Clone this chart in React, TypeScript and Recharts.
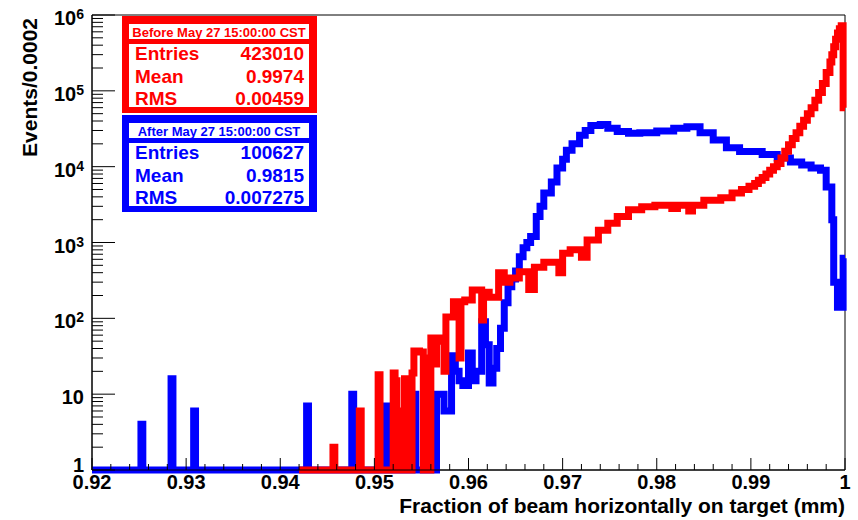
import { LineChart, Line, XAxis, YAxis, ReferenceArea } from 'recharts'

// bin low edges and counts (events / 0.0002)
const blueEdges = [
  0.92, 0.9252, 0.9254, 0.9284, 0.9286, 0.9308, 0.931, 0.9428, 0.943, 0.9476, 0.9478, 0.9512, 0.9514,
  0.954, 0.9544, 0.9566, 0.9574, 0.9582, 0.9586, 0.959, 0.9594, 0.96, 0.9604, 0.9608, 0.9614, 0.9618,
  0.9622, 0.9626, 0.963, 0.9634, 0.9638, 0.9642, 0.9646, 0.965, 0.9654, 0.9658, 0.9662, 0.9666, 0.9672,
  0.9676, 0.968, 0.9688, 0.9694, 0.97, 0.9704, 0.971, 0.9718, 0.9724, 0.973, 0.974, 0.9748, 0.9758,
  0.977, 0.9782, 0.98, 0.9818, 0.9832, 0.9846, 0.986, 0.9874, 0.9888, 0.9912, 0.9928, 0.9942, 0.9954,
  0.9964, 0.9974, 0.998, 0.9986, 0.9988, 0.9992, 0.9998
]
const blueCounts = [
  0, 4, 0, 16, 0, 6, 0, 7, 0, 10, 0, 7, 0,
  10, 0, 10, 6, 32, 20, 15, 13, 35, 15, 20, 90, 45,
  14, 22, 40, 74, 160, 260, 330, 420, 650, 850, 1000, 1200, 2200,
  3000, 4500, 6300, 9600, 12500, 16500, 20000, 26000, 30000, 35000, 36000, 32000, 29000,
  27500, 28000, 29500, 32000, 33500, 28000, 22500, 17700, 15800, 14500, 13000, 11500, 10500,
  9600, 9000, 5400, 2000, 300, 140, 620
]

const redEdges = [
  0.942, 0.9456, 0.9458, 0.9484, 0.9486, 0.9504, 0.9506, 0.952, 0.9522, 0.9524, 0.953, 0.9532, 0.9534,
  0.954, 0.9542, 0.9548, 0.9552, 0.9554, 0.9556, 0.956, 0.9564, 0.9566, 0.957, 0.9574, 0.9576, 0.9584,
  0.959, 0.9592, 0.9596, 0.9604, 0.9614, 0.9616, 0.9622, 0.9632, 0.9638, 0.9644, 0.9654, 0.9664, 0.967,
  0.968, 0.9696, 0.97, 0.9708, 0.972, 0.9726, 0.9738, 0.9748, 0.9758, 0.977, 0.9784, 0.9798, 0.9816,
  0.9822, 0.9834, 0.9838, 0.985, 0.9868, 0.988, 0.989, 0.9898, 0.9904, 0.9908, 0.9912, 0.9916, 0.992,
  0.9924, 0.9928, 0.9932, 0.9936, 0.994, 0.9944, 0.9948, 0.9952, 0.9956, 0.996, 0.9964, 0.9968, 0.9972,
  0.9976, 0.998, 0.9984, 0.9986, 0.9988, 0.999, 0.9992, 0.9994, 0.9996, 0.9998
]
const redCounts = [
  0, 2, 0, 6, 0, 18, 0, 19, 15, 0, 6, 16, 0,
  19, 37, 36, 0, 30, 0, 55, 25, 55, 50, 20, 104, 165,
  30, 165, 175, 236, 95, 220, 190, 400, 300, 340, 410, 240, 470,
  550, 400, 720, 800, 640, 1080, 1450, 1800, 2200, 2700, 2950, 3100, 2800,
  3100, 2600, 3100, 3600, 3900, 4500, 5000, 5500, 6000, 6600, 7200, 8000, 9000,
  10000, 11000, 13000, 16000, 19500, 23500, 28000, 34000, 41000, 50000, 60000, 75000, 95000,
  125000, 175000, 240000, 300000, 380000, 480000, 580000, 660000, 720000, 60000
]

const xMajorTicks = [0.92, 0.93, 0.94, 0.95, 0.96, 0.97, 0.98, 0.99, 1]
const xTickLabels = ['0.92', '0.93', '0.94', '0.95', '0.96', '0.97', '0.98', '0.99', '1']
const yMajorTicks = [1, 10, 100, 1000, 10000, 100000, 1000000]
const yTickBase = ['1', '10', '10', '10', '10', '10', '10']
const yTickSup = ['', '', '2', '3', '4', '5', '6']

const statLabels = ['Entries', 'Mean', 'RMS']
const redStats = ['423010', '0.9974', '0.00459']
const blueStats = ['100627', '0.9815', '0.007275']

const RED = '#ff0000'
const BLUE = '#0000ff'
const FONT = '"Liberation Sans", Arial, Helvetica, sans-serif'

function steps(edges: number[], counts: number[]) {
  const pts = edges.map((x, i) => ({ x, y: Math.max(counts[i], 1) }))
  pts.push({ x: 1, y: pts[pts.length - 1].y })
  return pts
}

const blueData = steps(blueEdges, blueCounts)
const redData = steps(redEdges, redCounts)

const xTicks: number[] = []
xMajorTicks.forEach((t, i) => {
  xTicks.push(t)
  if (i < xMajorTicks.length - 1) {
    for (let k = 1; k < 5; k++) xTicks.push(Math.round((t + k * 0.002) * 10000) / 10000)
  }
})

const yTicks: number[] = []
yMajorTicks.forEach((t, i) => {
  yTicks.push(t)
  if (i < yMajorTicks.length - 1) {
    for (let k = 2; k < 10; k++) yTicks.push(t * k)
  }
})

function XTick(props: any) {
  const { x, y, payload } = props
  const idx = xMajorTicks.findIndex((m) => Math.abs(m - payload.value) < 1e-6)
  const major = idx >= 0
  return (
    <g>
      <line x1={x} x2={x} y1={y} y2={y - (major ? 12 : 6)} stroke="#000" strokeWidth={1} />
      {major && (
        <text x={x} y={y + 19} textAnchor="middle" fontFamily={FONT} fontWeight="bold" fontSize={20} fill="#000">
          {xTickLabels[idx]}
        </text>
      )}
    </g>
  )
}

function YTick(props: any) {
  const { x, y, payload } = props
  const idx = yMajorTicks.findIndex((m) => Math.abs(m - payload.value) < 1e-6 * m)
  const major = idx >= 0
  return (
    <g>
      <line x1={x} x2={x + (major ? 23 : 11)} y1={y} y2={y} stroke="#000" strokeWidth={1} />
      {major && (
        <text x={x - 8} y={y + (idx === 0 ? 2 : 10)} textAnchor="end" fontFamily={FONT} fontWeight="bold" fontSize={20} fill="#000">
          {yTickBase[idx]}
          {yTickSup[idx] && (
            <tspan dy={-6} fontSize={14}>
              {yTickSup[idx]}
            </tspan>
          )}
        </text>
      )}
    </g>
  )
}

function StatBox({ top, color, title, values }: { top: number; color: string; title: string; values: string[] }) {
  return (
    <g fontFamily={FONT} fontWeight="bold" fill={color}>
      <rect x={122} y={top} width={195} height={97} fill={color} />
      <rect x={129} y={top + 8} width={180} height={15} fill="#fff" />
      <rect x={129} y={top + 28} width={180} height={63} fill="#fff" />
      <text x={219} y={top + 21} textAnchor="middle" fontSize={13}>
        {title}
      </text>
      {statLabels.map((l, i) => (
        <g key={l}>
          <text x={135} y={top + 44 + i * 22.5} fontSize={19}>
            {l}
          </text>
          <text x={304} y={top + 44 + i * 22.5} fontSize={19} textAnchor="end">
            {values[i]}
          </text>
        </g>
      ))}
    </g>
  )
}

export default function App() {
  return (
    <div style={{ position: 'absolute', left: 0, top: 0, width: 858, height: 520, background: '#fff', fontFamily: FONT }}>
      <LineChart width={858} height={520} margin={{ top: 15, right: 13, bottom: 0, left: 0 }}>
        <XAxis
          type="number"
          dataKey="x"
          domain={[0.92, 1]}
          ticks={xTicks}
          interval={0}
          tick={(p: any) => <XTick {...p} />}
          tickLine={false}
          tickSize={0}
          tickMargin={0}
          height={50}
          axisLine={{ stroke: '#000' }}
        />
        <YAxis
          type="number"
          scale="log"
          domain={[1, 1000000]}
          ticks={yTicks}
          interval={0}
          tick={(p: any) => <YTick {...p} />}
          tickLine={false}
          tickSize={0}
          tickMargin={0}
          width={92}
          axisLine={{ stroke: '#000' }}
        />
        <ReferenceArea x1={0.92} x2={1} y1={1} y2={1000000} fill="none" stroke="#000" strokeWidth={1} ifOverflow="visible" />
        <Line
          data={blueData}
          dataKey="y"
          type="stepAfter"
          stroke={BLUE}
          strokeWidth={7}
          strokeLinejoin="miter"
          dot={false}
          activeDot={false}
          isAnimationActive={false}
        />
        <Line
          data={redData}
          dataKey="y"
          type="stepAfter"
          stroke={RED}
          strokeWidth={7}
          strokeLinejoin="miter"
          dot={false}
          activeDot={false}
          isAnimationActive={false}
        />
      </LineChart>
      <svg width={858} height={520} style={{ position: 'absolute', left: 0, top: 0, pointerEvents: 'none' }}>
        <text x={845} y={513} textAnchor="end" fontFamily={FONT} fontWeight="bold" fontSize={21} fill="#000">
          Fraction of beam horizontally on target (mm)
        </text>
        <text x={37} y={18} transform="rotate(-90 37 18)" textAnchor="end" fontFamily={FONT} fontWeight="bold" fontSize={21} fill="#000">
          Events/0.0002
        </text>
        <StatBox top={16} color={RED} title="Before May 27 15:00:00 CST" values={redStats} />
        <StatBox top={115} color={BLUE} title="After May 27 15:00:00 CST" values={blueStats} />
      </svg>
    </div>
  )
}
